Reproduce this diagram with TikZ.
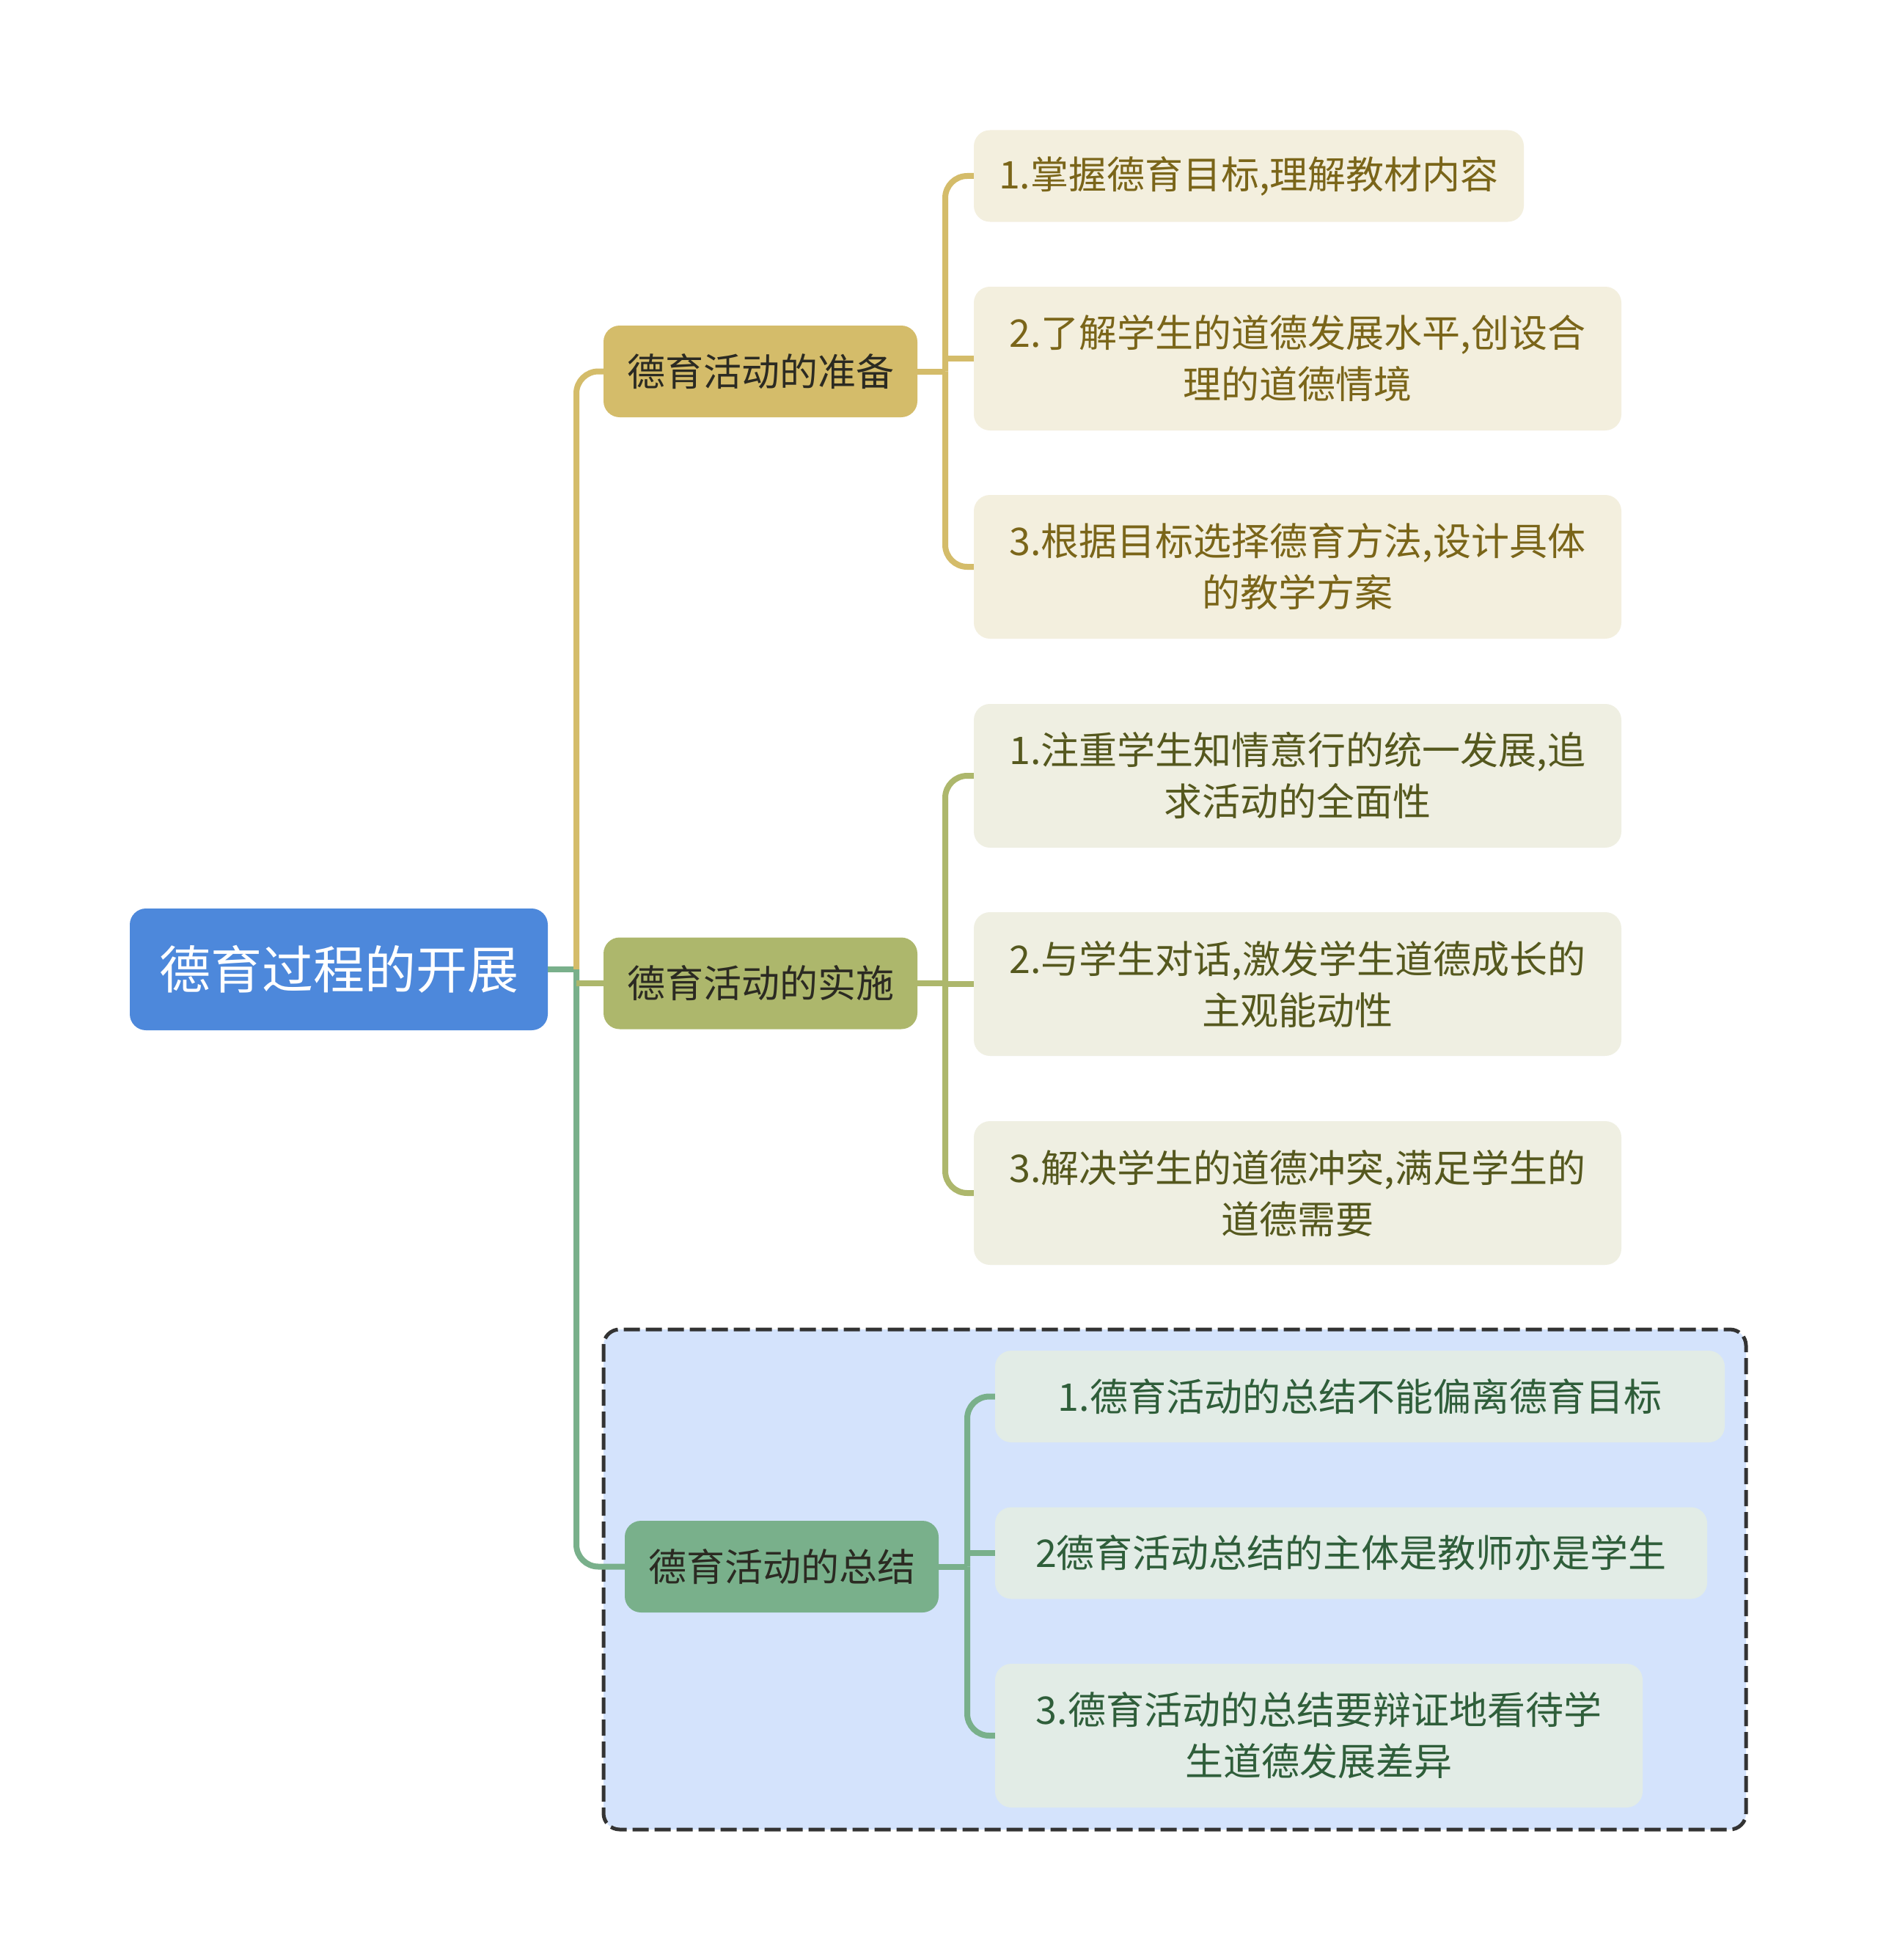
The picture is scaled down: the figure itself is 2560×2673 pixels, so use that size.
\documentclass[tikz,border=0pt]{standalone}
\usepackage{fontspec}
\setmainfont{Noto Sans CJK SC}
\usetikzlibrary{calc}
\definecolor{rootfill}{HTML}{4D88DB}
\definecolor{goldc}{HTML}{D4BC6A}
\definecolor{olivec}{HTML}{ADB76C}
\definecolor{greenc}{HTML}{79B08B}
\definecolor{goldbg}{HTML}{F3EFDE}
\definecolor{olivebg}{HTML}{EFEFE2}
\definecolor{greenbg}{HTML}{E2ECE6}
\definecolor{boxbg}{HTML}{D4E3FC}
\definecolor{goldtx}{HTML}{7A6519}
\definecolor{olivetx}{HTML}{55581E}
\definecolor{greentx}{HTML}{2F5E3A}
\definecolor{darktx}{HTML}{2B2A22}
\tikzset{
  base/.style={rounded corners=22pt, inner sep=0pt, align=center, font=\fontsize{52}{70}\selectfont},
  rootbox/.style={base, fill=rootfill, text=white, minimum width=570pt, minimum height=166pt, font=\fontsize{70}{84}\selectfont},
  lone/.style={base, fill=#1, text=darktx, minimum width=428pt, minimum height=125pt},
  leaf/.style={base, minimum height=196pt},
  shortleaf/.style={base, minimum height=125pt},
  conn/.style={line width=8pt, draw=#1, rounded corners=30pt},
}
\begin{document}
\begin{tikzpicture}[x=1pt,y=-1pt]
\useasboundingbox[fill=white] (0,0) rectangle (2560,2673);
% dashed summary frame
\draw[fill=boxbg, draw=black!80, line width=5pt, dash pattern=on 22pt off 8pt, rounded corners=22pt]
  (823,1813) rectangle (2381,2495);
% nodes
\node[rootbox] (root) at (462,1322) {德育过程的开展};
\node[lone=goldc] (prep) at (1037,506.5) {德育活动的准备};
\node[lone=olivec] (impl) at (1037,1341) {德育活动的实施};
\node[lone=greenc] (summ) at (1066,2136.5) {德育活动的总结};
\node[shortleaf, fill=goldbg, text=goldtx, minimum width=750pt] (p1) at (1703,240) {1.掌握德育目标,理解教材内容};
\node[leaf, fill=goldbg, text=goldtx, minimum width=883pt] (p2) at (1769.5,489) {2.了解学生的道德发展水平,创设合\\理的道德情境};
\node[leaf, fill=goldbg, text=goldtx, minimum width=883pt] (p3) at (1769.5,773) {3.根据目标选择德育方法,设计具体\\的教学方案};
\node[leaf, fill=olivebg, text=olivetx, minimum width=883pt] (i1) at (1769.5,1058) {1.注重学生知情意行的统一发展,追\\求活动的全面性};
\node[leaf, fill=olivebg, text=olivetx, minimum width=883pt] (i2) at (1769.5,1342) {2.与学生对话,激发学生道德成长的\\主观能动性};
\node[leaf, fill=olivebg, text=olivetx, minimum width=883pt] (i3) at (1769.5,1627) {3.解决学生的道德冲突,满足学生的\\道德需要};
\node[shortleaf, fill=greenbg, text=greentx, minimum width=995pt] (s1) at (1854.5,1904.5) {1.德育活动的总结不能偏离德育目标};
\node[shortleaf, fill=greenbg, text=greentx, minimum width=971pt] (s2) at (1842.5,2118) {2德育活动总结的主体是教师亦是学生};
\node[leaf, fill=greenbg, text=greentx, minimum width=883pt] (s3) at (1798.5,2367) {3.德育活动的总结要辩证地看待学\\生道德发展差异};
% junctions
\coordinate (rj) at (786,1322);
\coordinate (pj) at (1289,506.5);
\coordinate (ij) at (1289,1341);
\coordinate (sj) at (1319,2136.5);
% root connectors
\draw[conn=greenc] (root.east) -- (rj);
\draw[conn=goldc] (rj) |- (prep.west);
\draw[conn=greenc] (rj) |- (summ.west);
\draw[conn=olivec] (rj |- impl.west) -- (impl.west);
% preparation
\draw[conn=goldc] (prep.east) -- (pj);
\draw[conn=goldc] (pj) |- (p1.west);
\draw[conn=goldc] (pj) |- (p3.west);
\draw[conn=goldc] (pj |- p2.west) -- (p2.west);
% implementation
\draw[conn=olivec] (impl.east) -- (ij);
\draw[conn=olivec] (ij) |- (i1.west);
\draw[conn=olivec] (ij) |- (i3.west);
\draw[conn=olivec] (ij |- i2.west) -- (i2.west);
% summary
\draw[conn=greenc] (summ.east) -- (sj);
\draw[conn=greenc] (sj) |- (s1.west);
\draw[conn=greenc] (sj) |- (s3.west);
\draw[conn=greenc] (sj |- s2.west) -- (s2.west);
\end{tikzpicture}
\end{document}
